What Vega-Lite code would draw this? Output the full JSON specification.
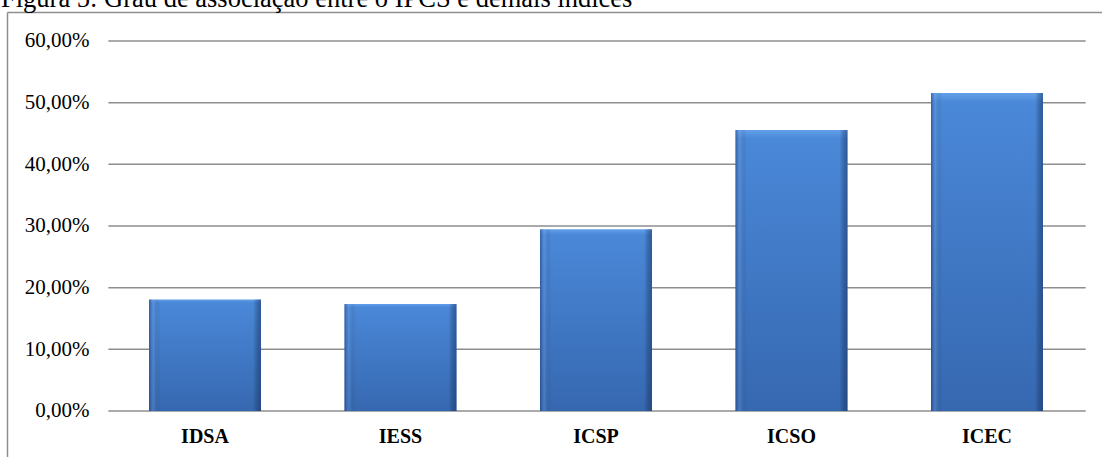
{
  "$schema": "https://vega.github.io/schema/vega-lite/v6.json",
  "width": 1095,
  "height": 445,
  "autosize": {"type": "none"},
  "padding": {"left": 7, "top": 12, "right": 0, "bottom": 0},
  "background": "white",
  "title": {
    "text": "Figura 5: Grau de associação entre o IPCS e demais índices",
    "anchor": "start",
    "font": "Liberation Serif",
    "fontSize": 26.5,
    "fontWeight": "normal",
    "color": "black",
    "dx": -6,
    "dy": 29,
    "offset": 2,
    "baseline": "bottom"
  },
  "config": {
    "view": {"stroke": null},
    "locale": {
      "number": {"decimal": ",", "thousands": ".", "grouping": [3], "currency": ["R$ ", ""]}
    }
  },
  "datasets": {
    "bars": [
      {"indice": "IDSA", "valor": 0.181},
      {"indice": "IESS", "valor": 0.1735},
      {"indice": "ICSP", "valor": 0.2946},
      {"indice": "ICSO", "valor": 0.4557},
      {"indice": "ICEC", "valor": 0.5156}
    ],
    "grid": [
      {"v": 0}, {"v": 0.1}, {"v": 0.2}, {"v": 0.3}, {"v": 0.4}, {"v": 0.5}, {"v": 0.6}
    ]
  },
  "layer": [
    {
      "data": {"name": "grid"},
      "mark": {"type": "rule", "color": "#8e8e8e", "strokeWidth": 1.5},
      "encoding": {
        "y": {"field": "v", "type": "quantitative"},
        "x": {"datum": "IDSA", "type": "nominal", "bandPosition": -0.363},
        "x2": {"datum": "ICEC", "bandPosition": 1.381}
      }
    },
    {
      "data": {"name": "bars"},
      "mark": {
        "type": "bar",
        "color": {
          "gradient": "linear", "x1": 0, "y1": 0, "x2": 0, "y2": 1,
          "stops": [
            {"offset": 0, "color": "#62a0ea"},
            {"offset": 0.03, "color": "#4a88d8"},
            {"offset": 1, "color": "#3668b0"}
          ]
        }
      },
      "encoding": {
        "x": {
          "field": "indice",
          "type": "nominal",
          "sort": null,
          "scale": {
            "domain": ["IDSA", "IESS", "ICSP", "ICSO", "ICEC"],
            "paddingInner": 0.4271,
            "paddingOuter": 0.5141,
            "align": 0.7065
          },
          "axis": {
            "orient": "top",
            "title": null,
            "domain": true,
            "domainColor": "#8e8e8e",
            "domainWidth": 1.5,
            "ticks": false,
            "tickSize": 0,
            "labelPadding": -424.5,
            "labelBaseline": "middle",
            "labelAlign": "center",
            "labelAngle": 0,
            "labelFont": "Liberation Serif",
            "labelFontSize": 20,
            "labelFontWeight": "bold",
            "labelColor": "black"
          }
        },
        "y": {
          "field": "valor",
          "type": "quantitative",
          "scale": {"domain": [-0.0746, 0.647], "nice": false, "zero": false},
          "axis": {
            "orient": "left",
            "title": null,
            "values": [0, 0.1, 0.2, 0.3, 0.4, 0.5, 0.6],
            "format": ".2%",
            "grid": false,
            "domain": true,
            "domainColor": "#8e8e8e",
            "domainWidth": 1.5,
            "ticks": false,
            "tickSize": 0,
            "labelPadding": -82,
            "labelAlign": "right",
            "labelBaseline": "middle",
            "labelFont": "Liberation Serif",
            "labelFontSize": 21,
            "labelColor": "black"
          }
        },
        "y2": {"datum": 0}
      }
    },
    {
      "data": {"name": "bars"},
      "mark": {
        "type": "bar",
        "color": {
          "gradient": "linear", "x1": 0, "y1": 0, "x2": 1, "y2": 0,
          "stops": [
            {"offset": 0, "color": "rgba(20,45,100,0.5)"},
            {"offset": 0.04, "color": "rgba(120,170,235,0.25)"},
            {"offset": 0.1, "color": "rgba(0,0,0,0)"},
            {"offset": 0.93, "color": "rgba(0,0,0,0)"},
            {"offset": 1, "color": "rgba(20,45,100,0.5)"}
          ]
        }
      },
      "encoding": {
        "x": {"field": "indice", "type": "nominal", "sort": null},
        "y": {"field": "valor", "type": "quantitative"},
        "y2": {"datum": 0}
      }
    }
  ]
}
